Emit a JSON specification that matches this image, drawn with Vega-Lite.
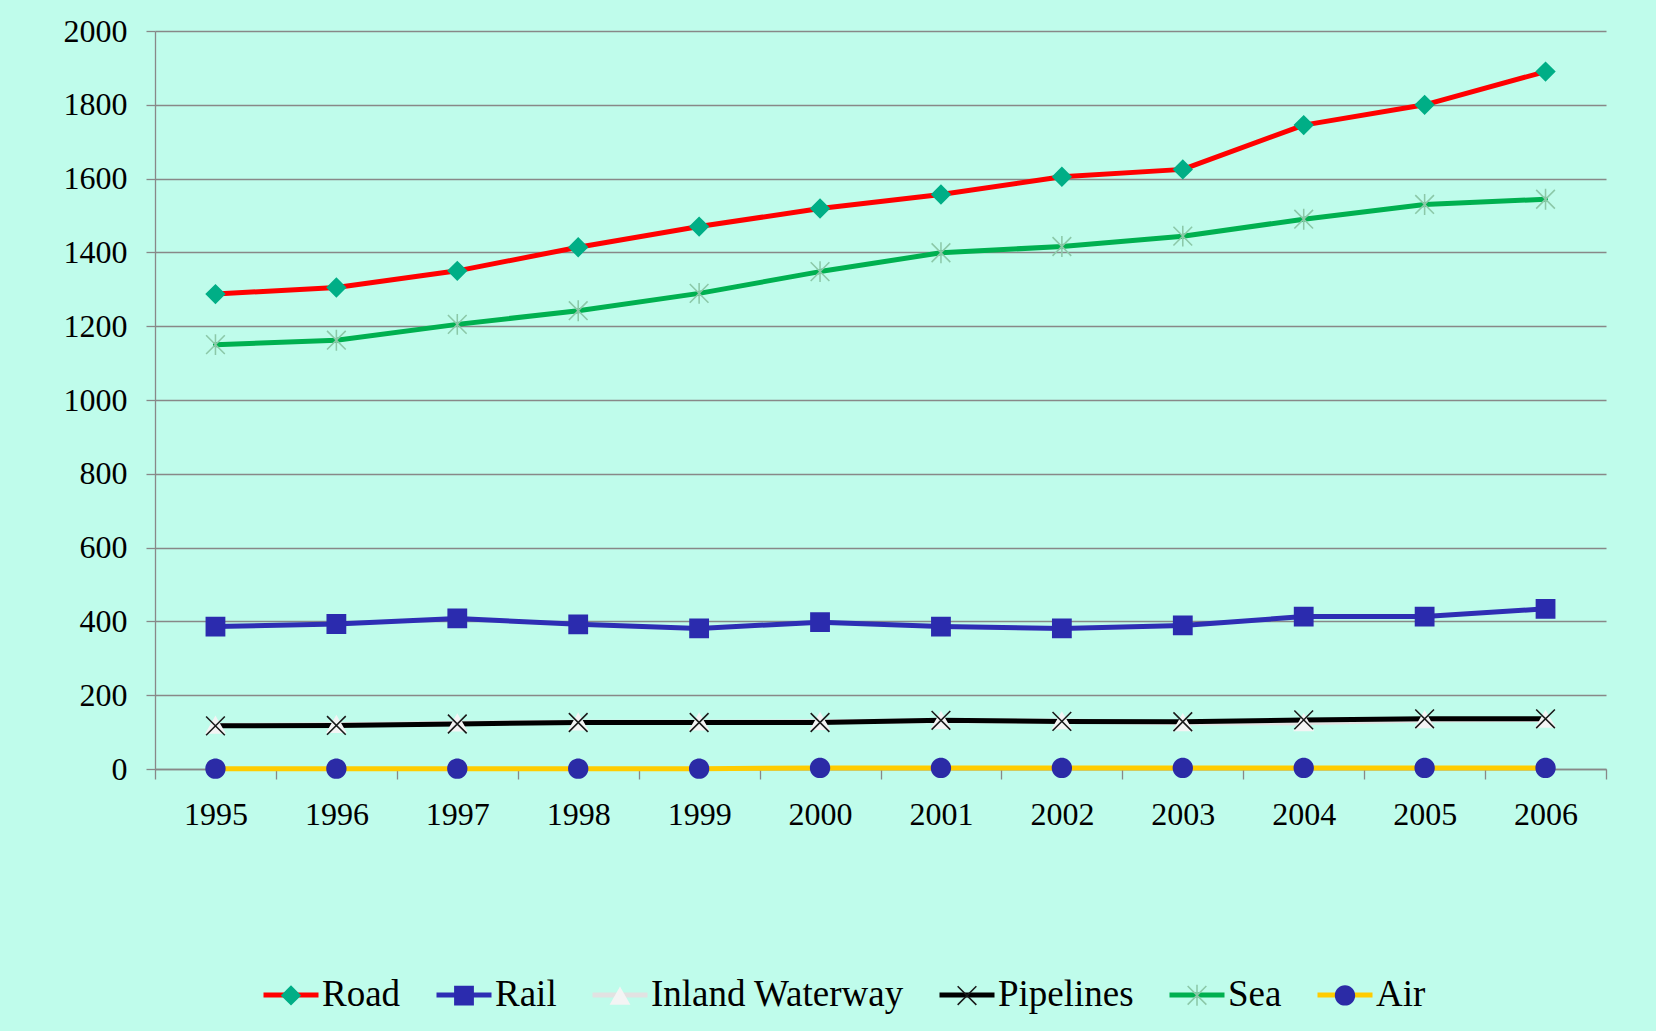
{
  "$schema": "https://vega.github.io/schema/vega-lite/v6.json",
  "width": 1451,
  "height": 738,
  "autosize": {"type": "none"},
  "padding": {"left": 155, "top": 31, "right": 50, "bottom": 262},
  "background": "#BFFCEB",
  "config": {
    "view": {"stroke": null},
    "axis": {
      "labelFont": "Liberation Serif",
      "labelFontSize": 32,
      "labelColor": "#000000",
      "domainColor": "#888888",
      "tickColor": "#888888",
      "gridColor": "#888888",
      "domainWidth": 1.3,
      "tickWidth": 1.3,
      "gridWidth": 1.3,
      "title": null
    }
  },
  "data": {
    "values": [
      {"year": "1995", "mode": "Road", "value": 1287},
      {"year": "1996", "mode": "Road", "value": 1305},
      {"year": "1997", "mode": "Road", "value": 1350},
      {"year": "1998", "mode": "Road", "value": 1414},
      {"year": "1999", "mode": "Road", "value": 1470},
      {"year": "2000", "mode": "Road", "value": 1519},
      {"year": "2001", "mode": "Road", "value": 1557},
      {"year": "2002", "mode": "Road", "value": 1605},
      {"year": "2003", "mode": "Road", "value": 1625},
      {"year": "2004", "mode": "Road", "value": 1745},
      {"year": "2005", "mode": "Road", "value": 1800},
      {"year": "2006", "mode": "Road", "value": 1890},
      {"year": "1995", "mode": "Rail", "value": 386},
      {"year": "1996", "mode": "Rail", "value": 393},
      {"year": "1997", "mode": "Rail", "value": 408},
      {"year": "1998", "mode": "Rail", "value": 392},
      {"year": "1999", "mode": "Rail", "value": 381},
      {"year": "2000", "mode": "Rail", "value": 398},
      {"year": "2001", "mode": "Rail", "value": 386},
      {"year": "2002", "mode": "Rail", "value": 381},
      {"year": "2003", "mode": "Rail", "value": 389},
      {"year": "2004", "mode": "Rail", "value": 413},
      {"year": "2005", "mode": "Rail", "value": 413},
      {"year": "2006", "mode": "Rail", "value": 434},
      {"year": "1995", "mode": "Inland Waterway", "value": 118},
      {"year": "1996", "mode": "Inland Waterway", "value": 120},
      {"year": "1997", "mode": "Inland Waterway", "value": 124},
      {"year": "1998", "mode": "Inland Waterway", "value": 127},
      {"year": "1999", "mode": "Inland Waterway", "value": 127},
      {"year": "2000", "mode": "Inland Waterway", "value": 128},
      {"year": "2001", "mode": "Inland Waterway", "value": 131},
      {"year": "2002", "mode": "Inland Waterway", "value": 130},
      {"year": "2003", "mode": "Inland Waterway", "value": 125},
      {"year": "2004", "mode": "Inland Waterway", "value": 125},
      {"year": "2005", "mode": "Inland Waterway", "value": 133},
      {"year": "2006", "mode": "Inland Waterway", "value": 134},
      {"year": "1995", "mode": "Pipelines", "value": 117},
      {"year": "1996", "mode": "Pipelines", "value": 118},
      {"year": "1997", "mode": "Pipelines", "value": 122},
      {"year": "1998", "mode": "Pipelines", "value": 126},
      {"year": "1999", "mode": "Pipelines", "value": 126},
      {"year": "2000", "mode": "Pipelines", "value": 126},
      {"year": "2001", "mode": "Pipelines", "value": 132},
      {"year": "2002", "mode": "Pipelines", "value": 129},
      {"year": "2003", "mode": "Pipelines", "value": 128},
      {"year": "2004", "mode": "Pipelines", "value": 133},
      {"year": "2005", "mode": "Pipelines", "value": 136},
      {"year": "2006", "mode": "Pipelines", "value": 136},
      {"year": "1995", "mode": "Sea", "value": 1150},
      {"year": "1996", "mode": "Sea", "value": 1162},
      {"year": "1997", "mode": "Sea", "value": 1205},
      {"year": "1998", "mode": "Sea", "value": 1242},
      {"year": "1999", "mode": "Sea", "value": 1289},
      {"year": "2000", "mode": "Sea", "value": 1348},
      {"year": "2001", "mode": "Sea", "value": 1399},
      {"year": "2002", "mode": "Sea", "value": 1416},
      {"year": "2003", "mode": "Sea", "value": 1444},
      {"year": "2004", "mode": "Sea", "value": 1490},
      {"year": "2005", "mode": "Sea", "value": 1530},
      {"year": "2006", "mode": "Sea", "value": 1544},
      {"year": "1995", "mode": "Air", "value": 1},
      {"year": "1996", "mode": "Air", "value": 1},
      {"year": "1997", "mode": "Air", "value": 1},
      {"year": "1998", "mode": "Air", "value": 1},
      {"year": "1999", "mode": "Air", "value": 1},
      {"year": "2000", "mode": "Air", "value": 3},
      {"year": "2001", "mode": "Air", "value": 3},
      {"year": "2002", "mode": "Air", "value": 3},
      {"year": "2003", "mode": "Air", "value": 3},
      {"year": "2004", "mode": "Air", "value": 3},
      {"year": "2005", "mode": "Air", "value": 3},
      {"year": "2006", "mode": "Air", "value": 3}
    ]
  },
  "encoding": {
    "x": {
      "field": "year",
      "type": "ordinal",
      "scale": {"type": "band", "paddingInner": 0, "paddingOuter": 0},
      "axis": {
        "tickBand": "extent",
        "labelAngle": 0,
        "tickSize": 10,
        "labelPadding": 20,
        "grid": false
      }
    },
    "y": {
      "field": "value",
      "type": "quantitative",
      "scale": {"domain": [0, 2000], "nice": false, "zero": true},
      "axis": {
        "values": [0, 200, 400, 600, 800, 1000, 1200, 1400, 1600, 1800, 2000],
        "grid": true,
        "tickSize": 9,
        "labelPadding": 19,
        "format": "d"
      }
    }
  },
  "layer": [
    {
      "mark": {"type": "line", "strokeWidth": 5, "strokeJoin": "round", "strokeCap": "round"},
      "encoding": {
        "color": {
          "field": "mode",
          "type": "nominal",
          "sort": ["Road", "Rail", "Inland Waterway", "Pipelines", "Sea", "Air"],
          "scale": {"range": ["#FF0000", "#2E2EB4", "#E2E2E2", "#000000", "#00B050", "#FFCC00"]},
          "legend": {
            "orient": "none",
            "legendX": 106,
            "legendY": 934,
            "direction": "horizontal",
            "columns": 6,
            "columnPadding": 25,
            "padding": 0,
            "title": null,
            "symbolType": "stroke",
            "symbolSize": 3025,
            "symbolStrokeWidth": 5,
            "labelFont": "Liberation Serif",
            "labelFontSize": 37,
            "labelColor": "#000000",
            "labelOffset": 1,
            "labelLimit": 500
          }
        }
      }
    },
    {
      "mark": {"type": "point", "filled": true, "opacity": 1, "size": 3025, "strokeWidth": 0},
      "encoding": {
        "fill": {
          "field": "mode",
          "type": "nominal",
          "scale": {
            "domain": ["Road", "Rail", "Inland Waterway", "Pipelines", "Sea", "Air"],
            "range": ["#00AE86", "#2B2BAE", "#F4F4F4", "#1A1A1A", "#8CC8A8", "#2B2BA6"]
          },
          "legend": {
            "orient": "none",
            "legendX": 106,
            "legendY": 934,
            "direction": "horizontal",
            "columns": 6,
            "columnPadding": 25,
            "padding": 0,
            "title": null,
            "symbolSize": 3025,
            "symbolStrokeWidth": 5,
            "symbolStrokeColor": "transparent",
            "symbolOpacity": 1,
            "labelFont": "Liberation Serif",
            "labelFontSize": 37,
            "labelColor": "transparent",
            "labelOffset": 1,
            "labelLimit": 500
          }
        },
        "shape": {
          "field": "mode",
          "type": "nominal",
          "scale": {
            "domain": ["Road", "Rail", "Inland Waterway", "Pipelines", "Sea", "Air"],
            "range": [
              "M-1,0L1,0ZM0,-0.37L0.37,0L0,0.37L-0.37,0Z",
              "M-1,0L1,0ZM-0.36,-0.36L0.36,-0.36L0.36,0.36L-0.36,0.36Z",
              "M-1,0L1,0ZM0,-0.36L0.38,0.3L-0.38,0.3Z",
              "M-1,0L1,0ZM-0.36,-0.32L-0.32,-0.36L0.36,0.32L0.32,0.36ZM0.36,-0.32L-0.32,0.36L-0.36,0.32L0.32,-0.36Z",
              "M-1,0L1,0ZM-0.36,-0.32L-0.32,-0.36L0.36,0.32L0.32,0.36ZM0.36,-0.32L-0.32,0.36L-0.36,0.32L0.32,-0.36ZM-0.028,-0.38L0.028,-0.38L0.028,0.38L-0.028,0.38Z",
              "M-1,0L1,0ZM0.37,0A0.37,0.37,0,1,1,-0.37,0A0.37,0.37,0,1,1,0.37,0Z"
            ]
          },
          "legend": {
            "orient": "none",
            "legendX": 106,
            "legendY": 934,
            "direction": "horizontal",
            "columns": 6,
            "columnPadding": 25,
            "padding": 0,
            "title": null,
            "symbolSize": 3025,
            "symbolStrokeWidth": 5,
            "symbolStrokeColor": "transparent",
            "symbolOpacity": 1,
            "labelFont": "Liberation Serif",
            "labelFontSize": 37,
            "labelColor": "transparent",
            "labelOffset": 1,
            "labelLimit": 500
          }
        }
      }
    }
  ]
}
